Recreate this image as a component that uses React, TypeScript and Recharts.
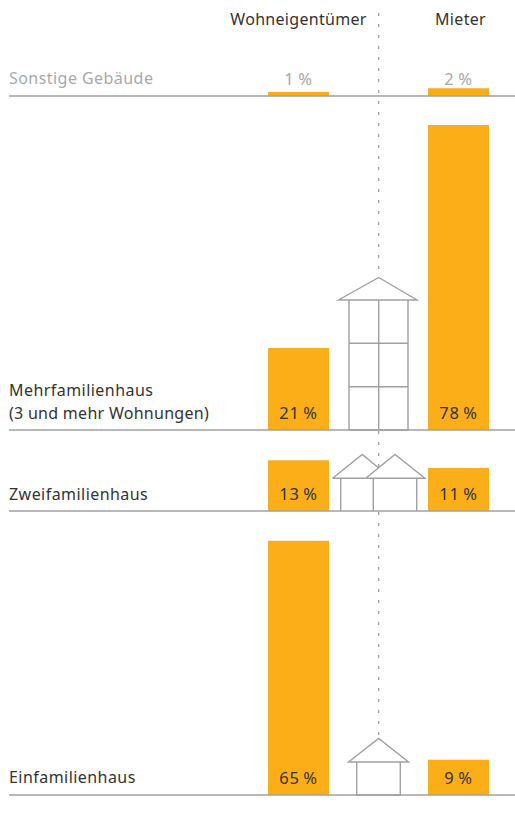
import { BarChart, Bar, XAxis, YAxis, LabelList } from "recharts";

const tenures = ["Wohneigentümer", "", "Mieter"];
const sonstige = [1, null, 2];
const mehrfamilien = [21, null, 78];
const zweifamilien = [13, null, 11];
const einfamilien = [65, null, 9];

const FONT = "'Noto Sans', sans-serif";
const ORANGE = "#fbae17";
const GREY = "#a0a0a0";
const DARK = "#333333";
const LIGHT = "#a8a8a8";

const CHART_H = 320;
const AXIS_H = 2;
const PLOT_H = 80 * 3.91;

const rows = [
  { key: "sonstige", values: sonstige, baseline: 95.5, color: LIGHT },
  { key: "mehr", values: mehrfamilien, baseline: 430, color: DARK },
  { key: "zwei", values: zweifamilien, baseline: 511, color: DARK },
  { key: "ein", values: einfamilien, baseline: 795, color: DARK },
];

const rowLabels = [
  { text: "Sonstige Gebäude", y: 84, color: LIGHT, spacing: 0.45 },
  { text: "Mehrfamilienhaus", y: 396, color: DARK, spacing: 0.45 },
  { text: "(3 und mehr Wohnungen)", y: 419, color: DARK, spacing: 0.28 },
  { text: "Zweifamilienhaus", y: 500, color: DARK, spacing: 0.45 },
  { text: "Einfamilienhaus", y: 783, color: DARK, spacing: 0.45 },
];

function Row({ values, baseline, color }: { values: (number | null)[]; baseline: number; color: string }) {
  const data = tenures.map((t, i) => ({ tenure: t, value: values[i] }));
  return (
    <div style={{ position: "absolute", left: 0, top: baseline - CHART_H + AXIS_H }}>
      <BarChart
        width={515}
        height={CHART_H}
        data={data}
        margin={{ top: CHART_H - PLOT_H - AXIS_H, right: 0, bottom: 0, left: 9 }}
      >
        <XAxis
          dataKey="tenure"
          height={AXIS_H}
          tick={false}
          tickLine={false}
          padding={{ left: 249, right: 17 }}
          axisLine={{ stroke: GREY, strokeWidth: 1.3 }}
        />
        <YAxis hide domain={[0, 80]} />
        <Bar dataKey="value" fill={ORANGE} barSize={61} isAnimationActive={false}>
          <LabelList
            dataKey="value"
            content={(p: any) =>
              p.value == null ? null : (
                <text
                  x={p.x + p.width / 2}
                  y={p.y + p.height - 11}
                  textAnchor="middle"
                  fontFamily={FONT}
                  fontSize={16.5}
                  letterSpacing={0.8}
                  fill={color}
                >
                  {p.value}{"\u2009"}%
                </text>
              )
            }
          />
        </Bar>
      </BarChart>
    </div>
  );
}

function Decor() {
  const house = { fill: "none", stroke: GREY, strokeWidth: 1.4 };
  const dots = { stroke: "#9a9a9a", strokeWidth: 1.2, strokeDasharray: "3 8" };
  return (
    <svg width={515} height={813} style={{ position: "absolute", left: 0, top: 0 }}>
      <line x1={378.7} x2={378.7} y1={13} y2={277} {...dots} />
      <line x1={378.7} x2={378.7} y1={431} y2={467} {...dots} />
      <line x1={378.7} x2={378.7} y1={512} y2={738} {...dots} />

      <path d="M338.5 300 L378.7 277.5 L417 300 Z M349 300 V430 H408 V300 M378.7 300 V430 M349 343.3 H408 M349 386.7 H408" {...house} />
      <path d="M332.5 478.3 L362.3 454.5 L378.7 468 M365.7 478.3 L395 454.5 L425 478.3 Z M332.5 478.3 H366 M340.7 478.3 V511 M373.3 478.3 V511 M416.7 478.3 V511" {...house} />
      <path d="M348.5 762 L378.7 738.5 L408.5 762 Z M356.7 762 V795 H400.3 V762" {...house} />

      <text x={298.5} y={25} textAnchor="middle" fontFamily={FONT} fontSize={16} letterSpacing={0.3} fill={DARK}>{tenures[0]}</text>
      <text x={460.5} y={25} textAnchor="middle" fontFamily={FONT} fontSize={16} letterSpacing={0.3} fill={DARK}>{tenures[2]}</text>
      {rowLabels.map((l) => (
        <text key={l.text} x={9} y={l.y} fontFamily={FONT} fontSize={16} letterSpacing={l.spacing} fill={l.color}>{l.text}</text>
      ))}
    </svg>
  );
}

export default function App() {
  return (
    <div style={{ position: "absolute", left: 0, top: 0, width: 515, height: 813, overflow: "hidden", background: "#fff" }}>
      <Decor />
      {rows.map((r) => (
        <Row key={r.key} values={r.values} baseline={r.baseline} color={r.color} />
      ))}
    </div>
  );
}
